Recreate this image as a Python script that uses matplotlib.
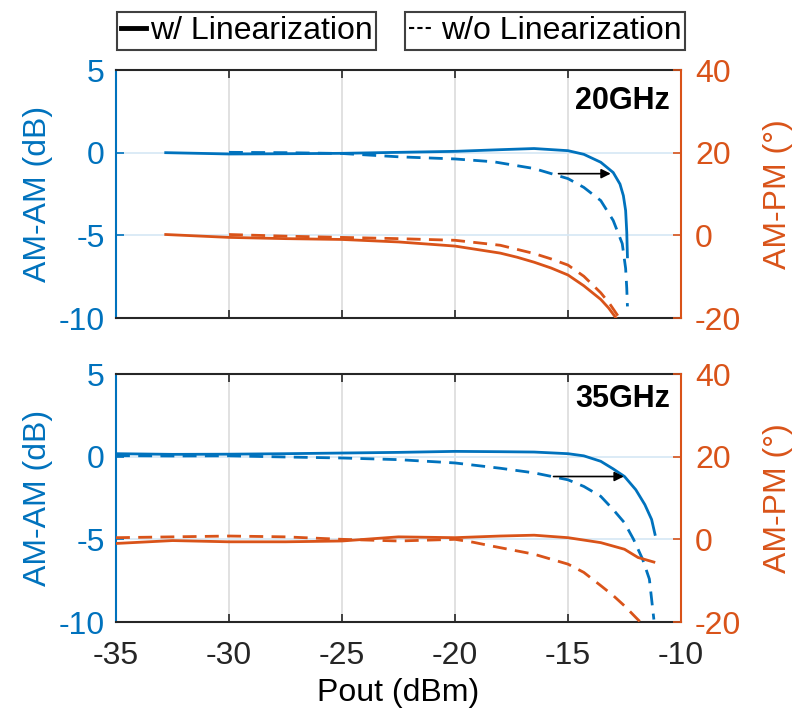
import matplotlib
matplotlib.use("Agg")
import matplotlib.pyplot as plt
from matplotlib.lines import Line2D

plt.rcParams['font.family'] = ['Liberation Sans', 'DejaVu Sans']
plt.rcParams['axes.unicode_minus'] = False

BLUE = '#0072BD'
ORANGE = '#D95319'
DARK = '#262626'

# 20 GHz
aa_w_20_x = [-32.8, -31, -30, -28, -25, -22.5, -20, -18, -16.5, -15, -14.3, -13.55, -13.0, -12.7, -12.55, -12.45, -12.4, -12.37]
aa_w_20_y = [0.0, -0.05, -0.08, -0.07, -0.04, 0.02, 0.08, 0.18, 0.25, 0.12, -0.1, -0.58, -1.2, -1.9, -2.6, -3.5, -4.8, -6.3]
aa_wo_20_x = [-30, -27.5, -25, -22.5, -20, -18.3, -16.5, -15, -14.3, -13.55, -13.0, -12.6, -12.45, -12.4, -12.37]
aa_wo_20_y = [0.02, 0.0, -0.05, -0.25, -0.38, -0.55, -0.96, -1.57, -2.1, -2.9, -4.1, -5.5, -7.0, -8.2, -9.3]
pm_w_20_x = [-32.8, -30, -27.5, -25, -22.5, -20, -18, -17.25, -16.5, -15.75, -15, -14.3, -13.55, -13.2, -12.89]
pm_w_20_y = [0.2, -0.5, -0.8, -1.0, -1.6, -2.6, -4.3, -5.3, -6.5, -7.9, -9.6, -12.2, -15.5, -17.6, -19.9]
pm_wo_20_x = [-30, -27.5, -25, -22.5, -20, -18, -16.5, -15.75, -15, -14.3, -13.55, -13.15, -12.74]
pm_wo_20_y = [0.2, -0.2, -0.5, -0.8, -1.2, -2.4, -4.4, -5.7, -7.2, -9.9, -13.9, -16.6, -19.9]

# 35 GHz
aa_w_35_x = [-35, -32.5, -30, -27.5, -25, -22.5, -20, -18, -16.5, -15, -14.3, -13.55, -13.0, -12.5, -12.0, -11.6, -11.3, -11.15]
aa_w_35_y = [0.18, 0.14, 0.15, 0.18, 0.22, 0.26, 0.32, 0.3, 0.28, 0.18, 0.05, -0.28, -0.74, -1.2, -2.0, -2.9, -3.8, -4.7]
aa_wo_35_x = [-35, -32.5, -30, -27.5, -25, -22.5, -20, -18, -16.5, -15, -14.3, -13.55, -13.0, -12.5, -12.1, -11.7, -11.4, -11.2]
aa_wo_35_y = [0.06, 0.04, 0.05, -0.02, -0.08, -0.18, -0.38, -0.7, -0.98, -1.4, -1.8, -2.4, -3.2, -4.0, -5.0, -6.2, -7.4, -9.85]
pm_w_35_x = [-35, -32.5, -30, -27.5, -25, -22.5, -20, -18, -16.5, -15, -13.55, -12.5, -11.9, -11.2]
pm_w_35_y = [-1.0, -0.3, -0.6, -0.6, -0.4, 0.6, 0.4, 0.8, 1.0, 0.4, -0.8, -2.4, -4.4, -5.5]
pm_wo_35_x = [-35, -32.5, -30, -27.5, -25, -22.5, -20, -19.2, -18.3, -16.5, -15, -14.3, -13.55, -13.0, -12.5, -12.0, -11.8]
pm_wo_35_y = [0.4, 0.6, 0.8, 0.6, 0.0, -0.4, 0.0, -0.7, -1.7, -3.6, -6.0, -8.0, -11.2, -13.6, -16.1, -18.9, -20.0]

x_ticks = [-35, -30, -25, -20, -15, -10]
aa_ticks = [-10, -5, 0, 5]
pm_ticks = [-20, 0, 20, 40]

FS = 23
LW = 2.0
DASH = (0, (5, 3))

fig = plt.figure(figsize=(7.95, 7.18), dpi=100)
W, H = 795, 718
L, R = 116 / W, 681 / W
ax_top = fig.add_axes([L, 1 - 318 / H, R - L, (318 - 70) / H])
ax_bot = fig.add_axes([L, 1 - 622 / H, R - L, (622 - 374) / H])

panels = [
    (ax_top, '20GHz', aa_w_20_x, aa_w_20_y, aa_wo_20_x, aa_wo_20_y,
     pm_w_20_x, pm_w_20_y, pm_wo_20_x, pm_wo_20_y, (-15.42, -13.11, -1.27), 0.875),
    (ax_bot, '35GHz', aa_w_35_x, aa_w_35_y, aa_wo_35_x, aa_wo_35_y,
     pm_w_35_x, pm_w_35_y, pm_wo_35_x, pm_wo_35_y, (-15.64, -12.53, -1.2), 0.9),
]

for ax, label, awx, awy, aox, aoy, pwx, pwy, pox, poy, arr, ty in panels:
    ax2 = ax.twinx()
    ax.plot(awx, awy, color=BLUE, lw=LW)
    ax.plot(aox, aoy, color=BLUE, lw=LW, linestyle=DASH)
    ax2.plot(pwx, pwy, color=ORANGE, lw=LW)
    ax2.plot(pox, poy, color=ORANGE, lw=LW, linestyle=DASH)

    ax.set_xlim(-35, -10)
    ax.set_ylim(-10, 5)
    ax2.set_ylim(-20, 40)
    ax.set_xticks(x_ticks)
    ax.set_yticks(aa_ticks)
    ax2.set_yticks(pm_ticks)

    # grid: vertical gray, horizontal light blue
    for xv in x_ticks[1:-1]:
        ax.axvline(xv, color='#dcdcdc', lw=1.2, zorder=0)
    for yv in aa_ticks[1:-1]:
        ax.axhline(yv, color='#d5e8f5', lw=1.2, zorder=0)

    ax.tick_params(axis='x', direction='in', length=6, width=1.2, colors=DARK,
                   labelsize=FS, top=True, pad=14)
    ax.tick_params(axis='y', direction='in', length=6, width=1.2, colors=BLUE,
                   labelsize=FS, pad=8)
    ax2.tick_params(axis='y', direction='in', length=6, width=1.2, colors=ORANGE,
                    labelsize=FS, pad=10)
    for s in ['top', 'bottom']:
        ax.spines[s].set_color(DARK)
        ax.spines[s].set_linewidth(1.5)
        ax2.spines[s].set_visible(False)
    ax.spines['left'].set_color(BLUE)
    ax.spines['left'].set_linewidth(1.5)
    ax2.spines['right'].set_color(ORANGE)
    ax2.spines['right'].set_linewidth(1.5)
    ax2.spines['left'].set_visible(False)
    ax.spines['right'].set_visible(False)

    ax.set_ylabel('AM-AM (dB)', color=BLUE, fontsize=FS, labelpad=4)
    ax2.set_ylabel('AM-PM (°)', color=ORANGE, fontsize=FS, labelpad=16)

    ax.text(0.98, ty, label, transform=ax.transAxes, ha='right', va='center',
            fontsize=22, fontweight='bold')
    ax.annotate('', xy=(arr[1], arr[2]), xytext=(arr[0], arr[2]),
                arrowprops=dict(arrowstyle='-|>', color='black', lw=1.2,
                                mutation_scale=14, shrinkA=0, shrinkB=0))

ax_top.tick_params(axis='x', labelbottom=False)
ax_bot.set_xlabel('Pout (dBm)', fontsize=FS, labelpad=5)

# two boxed legends above the panels
leg_kw = dict(loc='upper left', fontsize=FS, frameon=True, fancybox=False,
              framealpha=1, edgecolor='#404040', borderpad=0.12,
              borderaxespad=0, handletextpad=0.1)
leg1 = fig.legend([Line2D([], [], color='black', lw=3.5)], ['w/ Linearization'],
                  bbox_to_anchor=(117 / W, 1 - 12 / H), handlelength=0.8, **leg_kw)
leg2 = fig.legend([Line2D([], [], color='black', lw=1.5, linestyle=(0, (2.5, 1.5)))],
                  ['w/o Linearization'],
                  bbox_to_anchor=(405 / W, 1 - 12 / H), handlelength=0.7,
                  **dict(leg_kw, handletextpad=0.3))
for lg in (leg1, leg2):
    lg.get_frame().set_linewidth(1.5)

fig.savefig('out.png', dpi=100)
